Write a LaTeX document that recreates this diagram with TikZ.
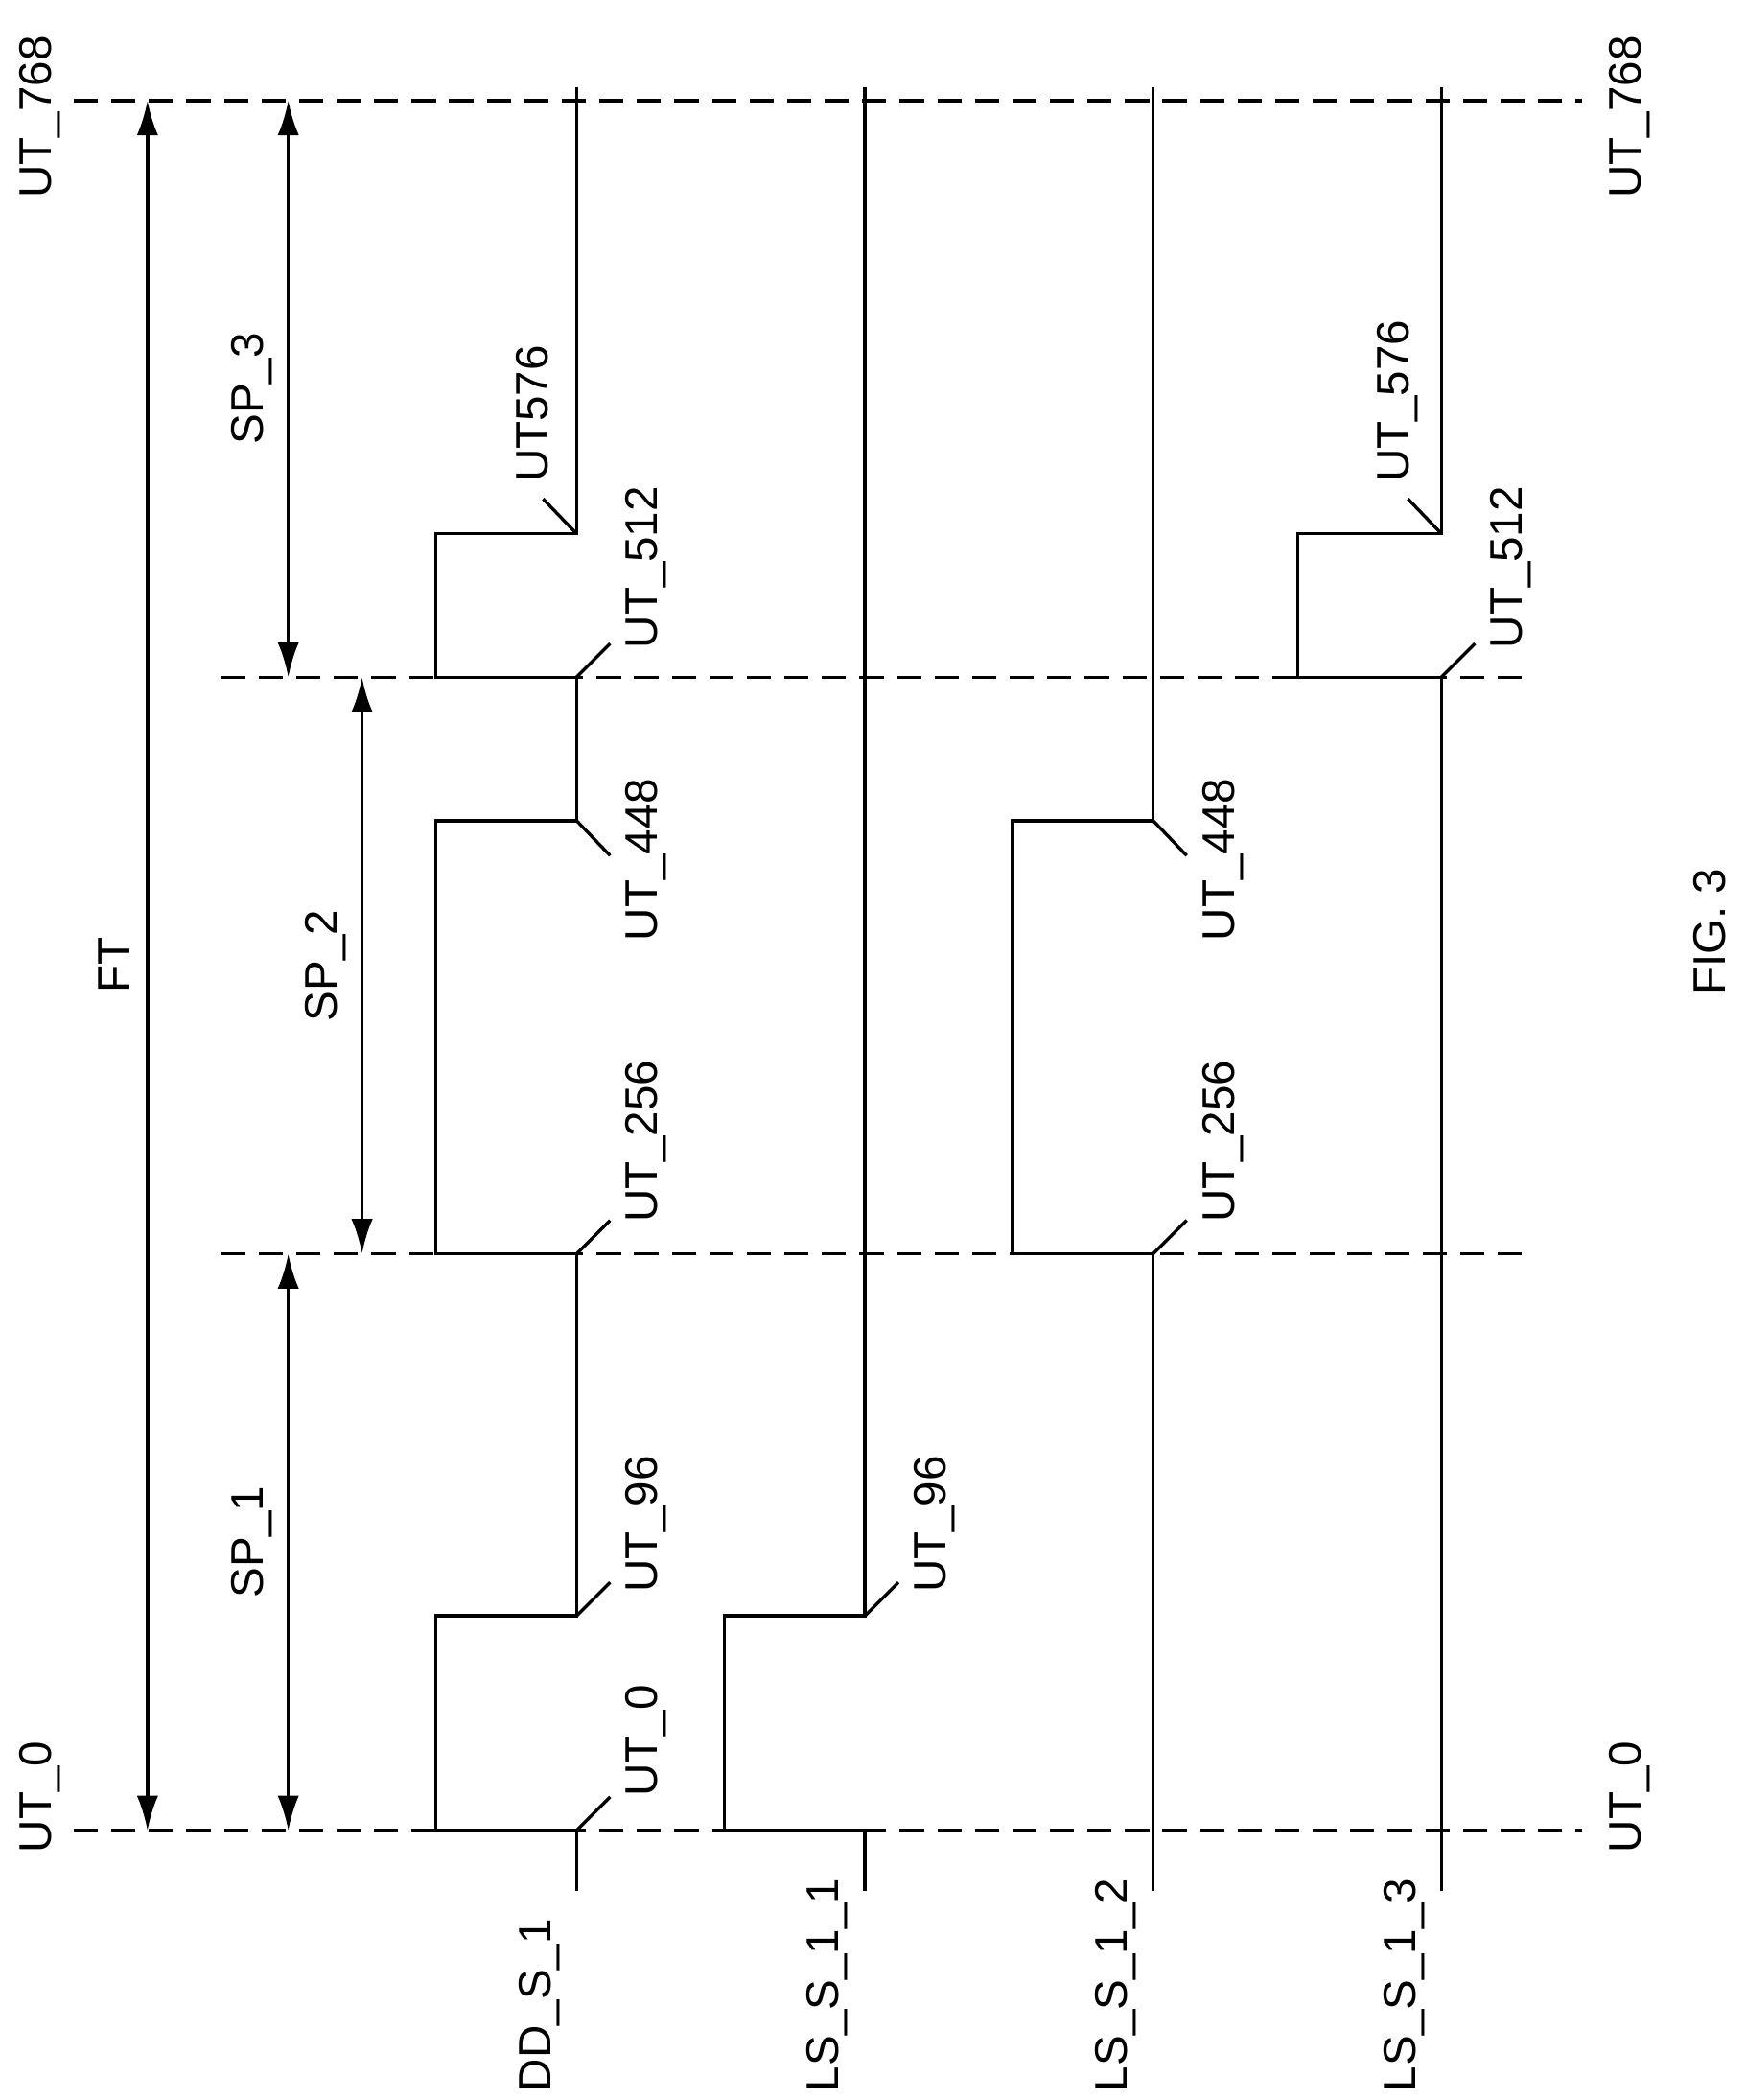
\documentclass[tikz,border=0pt]{standalone}
\usepackage{fontspec}
\setmainfont{Liberation Sans}
\usetikzlibrary{arrows.meta}
\begin{document}
\begin{tikzpicture}[x=0.5pt,y=-0.5pt,
  sig/.style={line width=1.2pt},
  dsh/.style={line width=1.2pt,dash pattern=on 9pt off 5pt},
  dim/.style={line width=1.2pt,{Latex[length=13pt,width=8pt]}-{Latex[length=13pt,width=8pt]}},
  lbl/.style={rotate=90,anchor=west,inner sep=0pt,font=\fontsize{17}{20}\selectfont},
  ctr/.style={rotate=90,anchor=center,inner sep=0pt,font=\fontsize{17}{20}\selectfont}]
\useasboundingbox (0,0) rectangle (1302,1566);
% dashed lines
\coordinate (t0) at (55,75); \coordinate (t1) at (1180,75);
\draw[dsh] (t0) -- (t1);
\coordinate (b0) at (55,1365); \coordinate (b1) at (1180,1365);
\draw[dsh] (b0) -- (b1);
\coordinate (m0) at (165,505); \coordinate (m1) at (1135,505);
\draw[dsh] (m0) -- (m1);
\coordinate (n0) at (165,935); \coordinate (n1) at (1135,935);
\draw[dsh] (n0) -- (n1);
% dimension arrows
\coordinate (ft0) at (110,75); \coordinate (ft1) at (110,1365);
\draw[dim] (ft0) -- (ft1);
\coordinate (s30) at (215,75); \coordinate (s31) at (215,505);
\draw[dim] (s30) -- (s31);
\coordinate (s20) at (270,505); \coordinate (s21) at (270,935);
\draw[dim] (s20) -- (s21);
\coordinate (s10) at (215,935); \coordinate (s11) at (215,1365);
\draw[dim] (s10) -- (s11);
\node[ctr] (FT) at (85,720) {FT};
\node[ctr] (SP3) at (188,290) {SP\_3};
\node[ctr] (SP2) at (243,720) {SP\_2};
\node[ctr] (SP1) at (188,1150) {SP\_1};
% DD_S_1
\draw[sig] (430,1410) -- (430,1365) -- (325,1365) -- (325,1205) -- (430,1205)
  -- (430,935) -- (325,935) -- (325,612) -- (430,612) -- (430,505) -- (325,505)
  -- (325,398) -- (430,398) -- (430,65);
% LS_S_1_1
\draw[sig] (645,1410) -- (645,1365) -- (540,1365) -- (540,1205) -- (645,1205) -- (645,65);
% LS_S_1_2
\draw[sig] (860,1410) -- (860,935) -- (755,935) -- (755,612) -- (860,612) -- (860,65);
% LS_S_1_3
\draw[sig] (1075,1410) -- (1075,505) -- (968,505) -- (968,398) -- (1075,398) -- (1075,65);
% signal names
\node[lbl] (n1) at (402,1560) {DD\_S\_1};
\node[lbl] (n2) at (617,1560) {LS\_S\_1\_1};
\node[lbl] (n3) at (832,1560) {LS\_S\_1\_2};
\node[lbl] (n4) at (1047,1560) {LS\_S\_1\_3};
% tick labels
\draw[sig] (430,1365) -- (455,1340); \node[lbl] at (482,1340) {UT\_0};
\draw[sig] (430,1205) -- (455,1180); \node[lbl] at (482,1188) {UT\_96};
\draw[sig] (645,1205) -- (670,1180); \node[lbl] at (697,1188) {UT\_96};
\draw[sig] (430,935) -- (455,910); \node[lbl] at (482,912) {UT\_256};
\draw[sig] (860,935) -- (885,910); \node[lbl] at (912,912) {UT\_256};
\draw[sig] (430,612) -- (455,638); \node[lbl] at (482,702) {UT\_448};
\draw[sig] (860,612) -- (885,638); \node[lbl] at (912,702) {UT\_448};
\draw[sig] (430,505) -- (455,480); \node[lbl] at (482,484) {UT\_512};
\draw[sig] (1075,505) -- (1100,480); \node[lbl] at (1127,484) {UT\_512};
\draw[sig] (430,398) -- (405,372); \node[lbl] at (397,360) {UT576};
\draw[sig] (1075,398) -- (1050,372); \node[lbl] at (1042,360) {UT\_576};
% corner labels
\node[lbl] at (30,1382) {UT\_0};
\node[lbl] at (30,148) {UT\_768};
\node[lbl] at (1215,1382) {UT\_0};
\node[lbl] at (1215,148) {UT\_768};
\node[ctr] (fig) at (1275,695) {FIG. 3};
\end{tikzpicture}
\end{document}
